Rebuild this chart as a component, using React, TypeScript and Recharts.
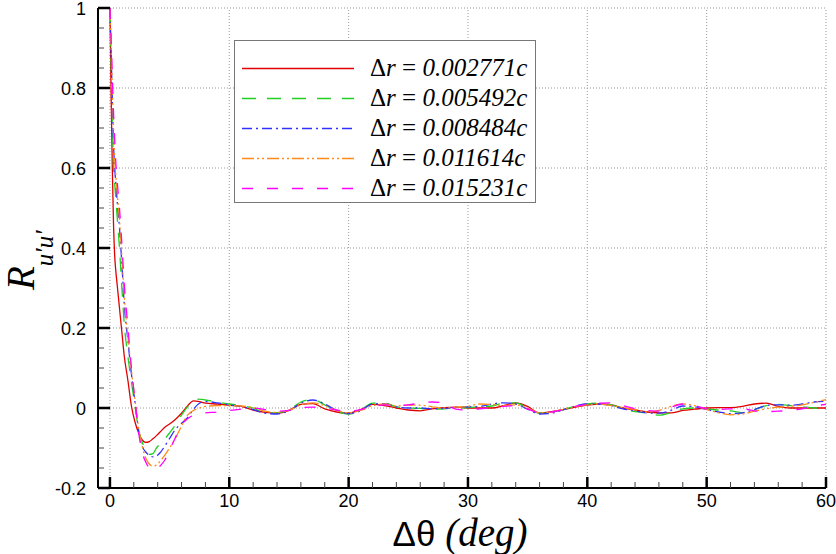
import React from 'react';
import { LineChart, Line, XAxis, YAxis, ReferenceLine, Legend } from 'recharts';

// ---- data ----
const THETA = [
  0, 0.1, 0.2, 0.3, 0.4, 0.5, 0.6, 0.8, 1.0, 1.2, 1.5, 1.8, 2.1, 2.4, 2.7, 3.0,
  3.3, 3.6, 3.9, 4.2, 4.6, 5, 5.5, 6, 6.5, 7, 7.5, 8, 9, 10,
  11, 12, 13, 14, 15, 16, 17, 18, 19, 20, 21, 22, 23, 24, 25, 26, 27, 28, 29, 30,
  31, 32, 33, 34, 35, 36, 37, 38, 39, 40, 41, 42, 43, 44, 45, 46, 47, 48, 49, 50,
  51, 52, 53, 54, 55, 56, 57, 58, 59, 60,
];

const R_002771 = [
  1.0, 0.78, 0.6, 0.46, 0.38, 0.34, 0.31, 0.25, 0.19, 0.13, 0.07, 0.005, -0.035, -0.062, -0.08, -0.086,
  -0.084, -0.077, -0.069, -0.06, -0.048, -0.04, -0.028, -0.013, 0.005, 0.018, 0.016, 0.012, 0.01, 0.007,
  0.004, -0.005, -0.011, -0.013, -0.006, 0.009, 0.011, -0.002, -0.01, -0.013, -0.004, 0.009, 0.006, 0.0, -0.005, -0.007, -0.002, 0.001, 0.002, 0.0,
  0.0, 0.0, 0.006, 0.013, 0.004, -0.013, -0.009, -0.004, 0.002, 0.007, 0.01, 0.008, 0.0, -0.005, -0.01, -0.012, -0.012, -0.006, -0.003, 0.0,
  0.001, 0.001, 0.004, 0.01, 0.012, 0.004, 0.0, 0.0, 0.0, 0.0,
];

const R_005492 = [
  1.0, 0.87, 0.73, 0.6, 0.56, 0.52, 0.48, 0.4, 0.3, 0.21, 0.13, 0.065, 0.005, -0.055, -0.085, -0.105,
  -0.116, -0.114, -0.1, -0.09, -0.077, -0.062, -0.042, -0.018, 0.003, 0.017, 0.022, 0.02, 0.015, 0.01,
  0.006, 0.0, -0.012, -0.012, -0.004, 0.015, 0.021, 0.008, -0.008, -0.015, -0.006, 0.012, 0.012, 0.003, 0.0, -0.001, -0.003, -0.002, 0.0, 0.001,
  0.003, 0.005, 0.012, 0.013, 0.0, -0.013, -0.012, -0.004, 0.005, 0.01, 0.012, 0.008, -0.002, -0.009, -0.012, -0.018, -0.012, -0.002, 0.0, -0.003,
  -0.005, -0.007, -0.012, -0.004, 0.006, 0.009, 0.006, 0.003, 0.0, -0.002,
];

const R_008484 = [
  1.0, 0.89, 0.77, 0.66, 0.6, 0.56, 0.52, 0.45, 0.36, 0.26, 0.17, 0.085, 0.015, -0.055, -0.095, -0.11,
  -0.118, -0.122, -0.12, -0.112, -0.095, -0.076, -0.053, -0.038, -0.024, -0.003, 0.012, 0.016, 0.013, 0.008,
  0.004, -0.004, -0.013, -0.015, -0.007, 0.012, 0.02, 0.01, -0.006, -0.014, -0.007, 0.01, 0.011, 0.003, 0.0, 0.0, -0.002, -0.001, 0.002, 0.003,
  0.004, 0.01, 0.013, 0.01, -0.003, -0.015, -0.013, -0.004, 0.005, 0.01, 0.01, 0.006, -0.002, -0.007, -0.012, -0.013, -0.006, 0.005, 0.003, -0.004,
  -0.01, -0.014, -0.012, -0.004, 0.006, 0.008, 0.007, 0.01, 0.015, 0.017,
];

const R_011614 = [
  1.0, 0.9, 0.8, 0.7, 0.62, 0.58, 0.54, 0.47, 0.38, 0.28, 0.18, 0.095, 0.02, -0.05, -0.095, -0.125,
  -0.14, -0.145, -0.143, -0.133, -0.118, -0.1, -0.075, -0.045, -0.018, -0.006, 0.0, 0.004, 0.006, 0.006,
  0.005, 0.001, -0.008, -0.011, -0.006, 0.008, 0.013, 0.006, -0.006, -0.012, -0.006, 0.006, 0.01, 0.005, 0.007, 0.007, 0.003, 0.0, 0.002, 0.004,
  0.01, 0.009, 0.006, 0.008, 0.0, -0.012, -0.01, -0.003, 0.004, 0.008, 0.01, 0.006, 0.001, -0.004, -0.01, -0.006, 0.004, 0.01, 0.006, -0.004,
  -0.012, -0.017, -0.015, -0.008, -0.002, 0.002, 0.004, 0.008, 0.014, 0.021,
];

const R_015231 = [
  1.0, 0.92, 0.83, 0.74, 0.67, 0.61, 0.57, 0.5, 0.41, 0.31, 0.205, 0.1, 0.02, -0.06, -0.11, -0.135,
  -0.15, -0.155, -0.153, -0.145, -0.13, -0.105, -0.073, -0.042, -0.027, -0.018, -0.014, -0.012, -0.01, -0.006,
  -0.003, 0.0, -0.004, -0.008, -0.006, 0.001, 0.002, 0.0, -0.005, -0.008, -0.004, 0.004, 0.008, 0.006, 0.008, 0.012, 0.015, 0.013, -0.003, -0.005,
  -0.002, 0.0, 0.004, 0.006, -0.002, -0.012, -0.01, -0.004, 0.004, 0.009, 0.012, 0.013, 0.006, -0.002, -0.006, -0.008, 0.002, 0.01, 0.006, -0.002,
  -0.004, -0.002, -0.002, -0.007, -0.009, -0.008, -0.006, -0.002, 0.005, 0.009,
];

const LEGEND_VALUES = ['0.002771c', '0.005492c', '0.008484c', '0.011614c', '0.015231c'];

const X_TICKS = [0, 2, 4, 6, 8, 10, 12, 14, 16, 18, 20, 22, 24, 26, 28, 30, 32, 34, 36, 38, 40, 42, 44, 46, 48, 50, 52, 54, 56, 58, 60];
const X_GRID = [0, 10, 20, 30, 40, 50, 60];
const Y_TICKS = [
  -0.2, -0.15, -0.1, -0.05, 0, 0.05, 0.1, 0.15, 0.2, 0.25, 0.3, 0.35, 0.4, 0.45, 0.5,
  0.55, 0.6, 0.65, 0.7, 0.75, 0.8, 0.85, 0.9, 0.95, 1,
];
const Y_GRID = [0, 0.2, 0.4, 0.6, 0.8, 1];

const SERIES = [
  { key: 's1', values: R_002771, label: LEGEND_VALUES[0], color: '#e00000', dash: undefined as string | undefined },
  { key: 's2', values: R_005492, label: LEGEND_VALUES[1], color: '#22d022', dash: '14 11' },
  { key: 's3', values: R_008484, label: LEGEND_VALUES[2], color: '#3030ff', dash: '10 4 2 4' },
  { key: 's4', values: R_011614, label: LEGEND_VALUES[3], color: '#ff8a1a', dash: '12 3 2 3 2 3' },
  { key: 's5', values: R_015231, label: LEGEND_VALUES[4], color: '#ff00ff', dash: '11 14' },
];

const DATA = THETA.map((t, i) => {
  const row: Record<string, number> = { theta: t };
  SERIES.forEach((s) => {
    row[s.key] = s.values[i];
  });
  return row;
});

const SANS = '"Liberation Sans", Arial, sans-serif';
const SERIF = '"Liberation Serif", "Times New Roman", serif';

const isMultiple = (v: number, m: number) => Math.abs(v / m - Math.round(v / m)) < 1e-6;

const XTick = (props: any) => {
  const { x, y, payload } = props;
  const v = payload.value as number;
  const major = isMultiple(v, 10);
  return (
    <g>
      <line x1={x} x2={x} y1={y} y2={y - (major ? 11 : 6)} stroke={major ? '#000' : '#444'} strokeWidth={major ? 2.5 : 1} />
      {major && (
        <text x={x} y={y + 19} textAnchor="middle" fontFamily={SANS} fontSize={18} fill="#000">
          {String(v)}
        </text>
      )}
    </g>
  );
};

const YTick = (props: any) => {
  const { x, y, payload } = props;
  const v = payload.value as number;
  const major = isMultiple(v, 0.2);
  return (
    <g>
      <line x1={x} x2={x + (major ? 12 : 6)} y1={y} y2={y} stroke={major ? '#000' : '#444'} strokeWidth={major ? 2.5 : 1} />
      {major && (
        <text x={x - 12} y={y + 6.5} textAnchor="end" fontFamily={SANS} fontSize={18} fill="#000">
          {String(Number(v.toFixed(2)))}
        </text>
      )}
    </g>
  );
};

const YTitle = (props: any) => {
  const vb = props.viewBox || { x: 0, y: 8, width: 98, height: 480 };
  const tx = vb.x + 34;
  const ty = vb.y + 282;
  return (
    <text transform={`translate(${tx},${ty}) rotate(-90)`} fontFamily={SERIF} fontStyle="italic" fill="#000">
      <tspan fontSize={39}>R</tspan>
      <tspan fontSize={25} dy={19}>u′u′</tspan>
    </text>
  );
};

const XTitle = (props: any) => {
  const vb = props.viewBox || { x: 98, y: 488, width: 728, height: 66 };
  const cx = vb.x + vb.width / 2 - 2;
  const by = vb.y + 58;
  return (
    <text x={cx} y={by} textAnchor="middle" fill="#000">
      <tspan fontFamily={SANS} fontSize={35}>Δθ </tspan>
      <tspan fontFamily={SERIF} fontStyle="italic" fontSize={39}>(deg)</tspan>
    </text>
  );
};

const LegendBox = (props: any) => {
  const payload = (props.payload || []) as any[];
  return (
    <div
      style={{
        position: 'relative',
        width: 302,
        height: 163,
        boxSizing: 'border-box',
        border: '1px solid #777',
        background: '#fff',
      }}
    >
      {payload.map((entry, i) => {
        const s = SERIES.find((d) => d.key === entry.dataKey) || SERIES[i];
        return (
          <div key={s.key} style={{ position: 'absolute', left: 0, top: 12 + i * 30, height: 30, width: 300 }}>
            <svg width={114} height={30} style={{ position: 'absolute', left: 6, top: 0 }}>
              <line x1={1} x2={113} y1={15.5} y2={15.5} stroke={s.color} strokeWidth={1.4} strokeDasharray={s.dash} />
            </svg>
            <div
              style={{
                position: 'absolute',
                left: 135,
                top: 0,
                height: 30,
                lineHeight: '30px',
                fontFamily: SERIF,
                fontSize: 25,
                whiteSpace: 'nowrap',
                color: '#000',
              }}
            >
              <span>Δ</span>
              <i>r</i>
              <span> = </span>
              <i>{s.label}</i>
            </div>
          </div>
        );
      })}
    </div>
  );
};

export default function App() {
  return (
    <div style={{ position: 'absolute', left: 0, top: 0, width: 836, height: 554, background: '#fff' }}>
      <LineChart width={836} height={554} data={DATA} margin={{ top: 8, right: 10, bottom: 0, left: 0 }}>
        <XAxis
          dataKey="theta"
          type="number"
          domain={[-1, 60]}
          ticks={X_TICKS}
          interval={0}
          tickSize={0}
          tickMargin={0}
          tick={<XTick />}
          axisLine={{ stroke: '#000', strokeWidth: 2 }}
          height={66}
          allowDataOverflow
          label={XTitle}
        />
        <YAxis
          type="number"
          domain={[-0.2, 1]}
          ticks={Y_TICKS}
          interval={0}
          tickSize={0}
          tickMargin={0}
          tick={<YTick />}
          axisLine={{ stroke: '#000', strokeWidth: 2 }}
          width={98}
          allowDataOverflow
          label={YTitle}
        />
        {X_GRID.map((v) => (
          <ReferenceLine key={`gx${v}`} x={v} stroke="#9a9a9a" strokeDasharray="1 2" strokeWidth={1} />
        ))}
        {Y_GRID.map((v) => (
          <ReferenceLine key={`gy${v}`} y={v} stroke="#9a9a9a" strokeDasharray="1 2" strokeWidth={1} />
        ))}
        <Legend
          content={LegendBox}
          layout="horizontal"
          verticalAlign="middle"
          align="center"
          wrapperStyle={{ position: 'absolute', left: 234, top: 40, width: 302, height: 163 }}
        />
        {SERIES.map((s) => (
          <Line
            key={s.key}
            type="monotone"
            dataKey={s.key}
            name={s.label}
            stroke={s.color}
            strokeWidth={1.3}
            strokeDasharray={s.dash}
            dot={false}
            activeDot={false}
            isAnimationActive={false}
          />
        ))}
      </LineChart>
    </div>
  );
}
